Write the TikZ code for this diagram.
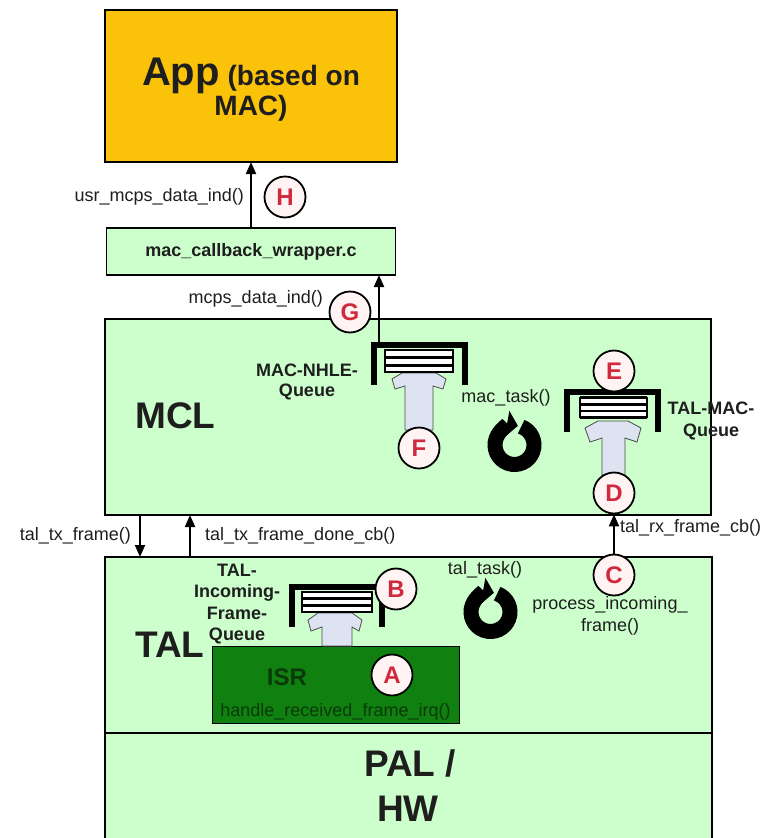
\documentclass[tikz,border=0pt]{standalone}
\usepackage{fontspec}
\setmainfont{Liberation Sans}
\usetikzlibrary{arrows.meta}
\definecolor{lgreen}{HTML}{CCFFCC}
\definecolor{appor}{HTML}{FBC20A}
\definecolor{isrg}{HTML}{108010}
\definecolor{isrt}{HTML}{0A3A0A}
\definecolor{arrfill}{HTML}{DDE3F0}
\definecolor{circfill}{HTML}{FFF3F3}
\definecolor{circred}{HTML}{D0283C}
\definecolor{txt}{HTML}{1E1E1E}
\begin{document}
\begin{tikzpicture}[x=1pt,y=-1pt,
  box/.style={draw=black,line width=1.3pt,inner sep=0pt,outer sep=0pt},
  circ/.style={circle,draw=black,line width=1.8pt,fill=circfill,minimum size=41pt,inner sep=0pt,
    font=\fontsize{24}{24}\selectfont\bfseries,text=circred},
  lbl/.style={font=\fontsize{18}{21}\selectfont,text=txt,inner sep=0pt},
  blbl/.style={font=\fontsize{18}{21}\selectfont\bfseries,align=center,inner sep=0pt,text=txt},
  big/.style={font=\fontsize{37}{44}\selectfont\bfseries,inner sep=0pt,text=txt},
  arr/.style={line width=2pt,-{Triangle[length=12pt,width=10pt]}},
  brk/.style={line width=5.5pt,line cap=butt,line join=miter},
  barr/.style={fill=arrfill,draw=black!70,line width=0.8pt},
  bar/.style={fill=white,draw=black,line width=1.2pt},
  ring/.style={line width=15pt,-{Triangle[length=11pt,width=26pt]}}
]
\useasboundingbox[fill=white] (0,0) rectangle (775,838);

% ---- boxes ----
\node[box,fill=appor,minimum width=292pt,minimum height=152pt] (app) at (251,86) {};
\node[box,fill=lgreen,minimum width=289pt,minimum height=47pt] (wrap) at (251,251.5) {};
\node[box,fill=lgreen,minimum width=606pt,minimum height=196pt] (mcl) at (408,417) {};
\node[box,fill=lgreen,minimum width=607pt,minimum height=176pt] (tal) at (408.5,645) {};
\node[box,fill=lgreen,minimum width=607pt,minimum height=120pt] (pal) at (408.5,793) {};
\node[box,fill=isrg,line width=1pt,minimum width=247pt,minimum height=77pt] (isr) at (335.5,684.5) {};

% ---- MAC-NHLE queue ----
\draw[barr] (405,430) -- (405,386) -- (395,389) -- (392,379) -- (402,373) -- (436,373)
  -- (446,379) -- (443,389) -- (433,386) -- (433,430) -- cycle;
\draw[bar] (385,350) rectangle (453,356.5);
\draw[bar] (385,358) rectangle (453,364.5);
\draw[bar] (385,366) rectangle (453,372);
\draw[brk] (374,385) -- (374,345) -- (465,345) -- (465,385);

% ---- TAL-MAC queue ----
\draw[barr] (602,475) -- (602,438) -- (590,442) -- (585,428) -- (598,421) -- (628,421)
  -- (641,428) -- (637,442) -- (625,438) -- (625,475) -- cycle;
\fill[white] (580,397) rectangle (647,418);
\draw[line width=2.6pt] (580,397.5) -- (647,397.5);
\draw[line width=2.6pt] (580,404.5) -- (647,404.5);
\draw[line width=2.6pt] (580,411) -- (647,411);
\draw[line width=2.6pt] (580,417.5) -- (647,417.5);
\draw[line width=1.2pt] (580,397) -- (580,418) (647,397) -- (647,418);
\draw[brk] (567,432) -- (567,392) -- (658,392) -- (658,432);

% ---- TAL-Incoming-Frame queue ----
\draw[barr] (322,646) -- (322,627) -- (311,631) -- (308,620) -- (318,613) -- (352,613)
  -- (362,620) -- (359,631) -- (352,627) -- (352,646) -- cycle;
\draw[bar] (302,592) rectangle (372,598);
\draw[bar] (302,599.5) rectangle (372,605);
\draw[bar] (302,606.5) rectangle (372,612);
\draw[brk] (292,627) -- (292,587) -- (382,587) -- (382,627);

% ---- task rings ----
\coordinate (macring) at (514.5,445);
\coordinate (talring) at (490.5,612);
\draw[ring] (macring) ++(-70:19.5) arc[start angle=-70,end angle=280,radius=19.5];
\draw[ring] (talring) ++(-70:19.5) arc[start angle=-70,end angle=280,radius=19.5];

% ---- circles ----
\node[circ] (H) at (285,197) {H};
\node[circ] (G) at (350,312) {G};
\node[circ] (F) at (419,448) {F};
\node[circ] (E) at (614,371) {E};
\node[circ] (D) at (614,493) {D};
\node[circ] (C) at (614,575) {C};
\node[circ] (B) at (396,589) {B};
\node[circ] (A) at (392,675) {A};

% ---- connectors ----
\coordinate (gq) at (379,345);
\coordinate (txx) at (140,536);
\coordinate (dnx) at (190,536);
\draw[arr] (wrap.north) -- (app.south);
\draw[arr] (gq) -- (gq |- wrap.south);
\draw[arr] (txx |- mcl.south) -- (txx |- tal.north);
\draw[arr] (dnx |- tal.north) -- (dnx |- mcl.south);
\draw[arr] (C) -- (D);

% ---- texts ----
\node[font=\bfseries,text=txt,inner sep=0pt,anchor=base] (app1) at (251,85)
  {{\fontsize{40}{40}\selectfont App}{\fontsize{28}{28}\selectfont\ (based on}};
\node[font=\fontsize{28}{28}\selectfont\bfseries,text=txt,inner sep=0pt,anchor=base] (app2) at (251,115) {MAC)};
\node[blbl] (wraptxt) at (wrap.center) {mac\_callback\_wrapper.c};
\node[lbl,anchor=east] (usr) at (244,197) {usr\_mcps\_data\_ind()};
\node[lbl,anchor=east] (mcps) at (323,299) {mcps\_data\_ind()};
\node[big,anchor=base west] (mcltxt) at (135,428) {MCL};
\node[big,anchor=base west] (taltxt) at (135,657) {TAL};
\node[big,anchor=base] (pal1) at (410,776) {PAL /};
\node[big,anchor=base] (pal2) at (408,821) {HW};
\node[blbl,font=\fontsize{18}{20}\selectfont\bfseries] (nhle) at (307,382) {MAC-NHLE-\\Queue};
\node[blbl,font=\fontsize{18}{22}\selectfont\bfseries] (talmac) at (711,421) {TAL-MAC-\\Queue};
\node[blbl,font=\fontsize{18}{21.5}\selectfont\bfseries] (incq) at (237,604) {TAL-\\Incoming-\\Frame-\\Queue};
\node[lbl] (mactask) at (506,398) {mac\_task()};
\node[lbl] (taltask) at (485,570) {tal\_task()};
\node[lbl,align=center,font=\fontsize{18}{22}\selectfont] (proc) at (610,616) {process\_incoming\_\\frame()};
\node[lbl,anchor=east] (txf) at (131,536) {tal\_tx\_frame()};
\node[lbl,anchor=west] (txd) at (205,536) {tal\_tx\_frame\_done\_cb()};
\node[lbl,anchor=west] (rxcb) at (620,528) {tal\_rx\_frame\_cb()};
\node[font=\fontsize{24}{24}\selectfont\bfseries,text=isrt,inner sep=0pt] (isrtxt) at (287,677) {ISR};
\node[lbl,text=isrt] (handle) at (335.5,712) {handle\_received\_frame\_irq()};
\end{tikzpicture}
\end{document}
